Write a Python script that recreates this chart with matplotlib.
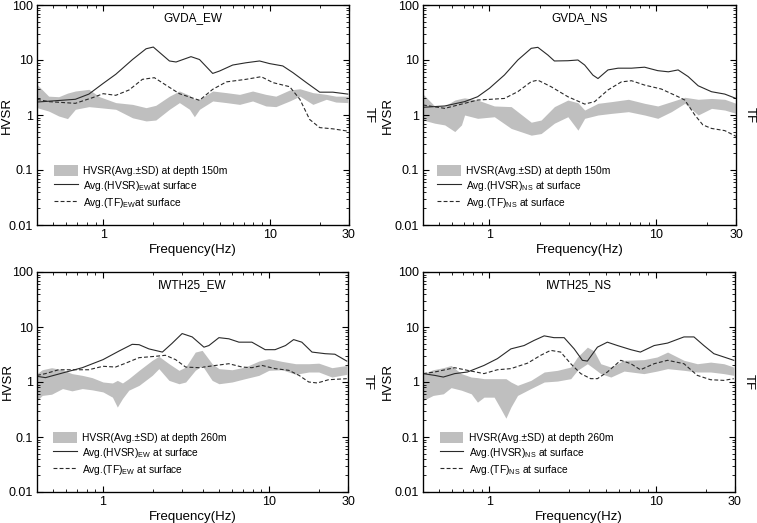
import matplotlib
matplotlib.use("Agg")
import matplotlib.pyplot as plt
import numpy as np
from matplotlib.ticker import LogLocator, FixedLocator, NullFormatter, FixedFormatter
from matplotlib.patches import Patch
from matplotlib.lines import Line2D

plt.rcParams['font.family'] = ['Liberation Sans', 'DejaVu Sans']
plt.rcParams['mathtext.fontset'] = 'custom'
plt.rcParams['mathtext.rm'] = 'Liberation Sans'

# ---------------- GVDA_EW ----------------
gew_hv_f = [0.40, 0.68, 0.82, 1.0, 1.19, 1.5, 1.81, 2.0, 2.5, 2.74, 3.37, 3.79, 4.55, 5.0, 6.0, 7.2, 8.7, 10.0, 12.0, 13.8, 16.6, 20.0, 24.0, 29.5]
gew_hv_v = [1.72, 1.93, 2.4, 3.76, 5.5, 10.2, 16.0, 17.2, 9.6, 9.2, 11.5, 10.2, 5.7, 6.3, 8.1, 8.9, 9.6, 8.6, 7.8, 5.9, 3.9, 2.6, 2.6, 2.4]
gew_tf_f = [0.40, 0.47, 0.68, 0.86, 1.0, 1.19, 1.43, 1.72, 2.03, 2.38, 2.87, 3.79, 4.55, 5.5, 7.2, 8.9, 10.5, 13.2, 15.2, 17.4, 20.0, 24.0, 29.5]
gew_tf_v = [1.93, 1.75, 1.63, 2.06, 2.44, 2.28, 2.85, 4.45, 4.77, 3.5, 2.44, 1.85, 2.93, 4.0, 4.45, 4.97, 3.87, 3.27, 1.93, 0.83, 0.59, 0.56, 0.51]
gew_sd_f = [0.40, 0.47, 0.54, 0.61, 0.68, 0.82, 0.95, 1.19, 1.5, 1.81, 2.07, 2.5, 2.87, 3.3, 3.53, 3.79, 4.55, 5.5, 6.6, 7.9, 9.5, 10.9, 13.2, 15.2, 18.2, 21.9, 25.0, 29.5]
gew_sd_hi = [3.6, 2.2, 2.15, 2.5, 2.73, 2.93, 2.15, 1.68, 1.56, 1.36, 1.5, 2.2, 2.73, 2.28, 1.93, 1.93, 2.73, 2.55, 2.37, 2.73, 2.37, 2.2, 2.85, 3.0, 2.55, 2.37, 2.2, 2.2]
gew_sd_lo = [1.36, 1.18, 0.96, 0.86, 1.27, 1.42, 1.36, 1.27, 0.89, 0.78, 0.81, 1.27, 1.68, 1.27, 0.93, 1.27, 1.8, 1.68, 1.56, 1.8, 1.46, 1.42, 1.8, 2.2, 1.56, 1.93, 1.72, 1.68]

# ---------------- GVDA_NS ----------------
gns_hv_f = [0.40, 0.54, 0.71, 0.85, 1.0, 1.23, 1.48, 1.78, 1.95, 2.24, 2.45, 2.95, 3.39, 3.72, 4.17, 4.47, 5.13, 5.9, 7.1, 8.5, 10.2, 11.8, 13.5, 15.5, 17.8, 21.4, 25.7, 30.0]
gns_hv_v = [1.38, 1.46, 1.75, 2.15, 3.06, 5.34, 10.0, 16.3, 17.0, 12.3, 9.6, 9.7, 10.0, 8.1, 5.3, 4.6, 6.6, 7.1, 7.1, 7.4, 6.4, 6.1, 6.6, 5.0, 3.4, 2.65, 2.4, 2.0]
gns_tf_f = [0.40, 0.54, 0.71, 0.85, 1.02, 1.23, 1.48, 1.78, 1.95, 2.34, 2.95, 3.72, 4.27, 5.13, 6.17, 7.1, 8.5, 10.7, 13.5, 14.8, 17.0, 19.0, 21.4, 25.7, 30.0]
gns_tf_v = [1.52, 1.32, 1.63, 1.87, 1.93, 2.0, 2.66, 4.04, 4.3, 3.27, 2.15, 1.58, 1.75, 2.85, 4.0, 4.2, 3.5, 2.97, 2.15, 1.87, 1.0, 0.66, 0.57, 0.52, 0.41]
gns_sd_f = [0.40, 0.47, 0.54, 0.62, 0.68, 0.71, 0.85, 1.07, 1.35, 1.78, 2.04, 2.45, 2.95, 3.39, 3.72, 4.47, 5.38, 6.8, 8.5, 10.2, 12.3, 14.8, 17.8, 21.4, 25.7, 30.0]
gns_sd_hi = [2.4, 1.46, 1.46, 1.87, 2.0, 2.05, 1.87, 1.46, 1.42, 0.74, 0.81, 1.42, 1.87, 1.67, 1.23, 1.63, 1.75, 1.93, 1.63, 1.46, 1.75, 2.1, 1.93, 2.0, 1.93, 1.63]
gns_sd_lo = [0.81, 0.71, 0.66, 0.5, 0.66, 1.0, 0.87, 0.93, 0.57, 0.43, 0.46, 0.71, 0.93, 0.53, 0.87, 1.0, 1.07, 1.15, 1.0, 0.87, 1.15, 1.63, 1.0, 1.32, 1.23, 1.07]

# ---------------- IWTH25_EW ----------------
iew_hv_f = [0.40, 0.45, 0.60, 0.75, 1.0, 1.25, 1.5, 1.65, 1.89, 2.28, 2.6, 3.0, 3.45, 4.06, 4.35, 5.0, 5.74, 6.6, 7.9, 9.5, 10.9, 12.6, 14.1, 15.8, 18.2, 21.9, 25.0, 29.5]
iew_hv_v = [1.27, 1.2, 1.52, 1.82, 2.55, 3.66, 4.84, 4.77, 4.0, 3.5, 5.0, 7.6, 6.6, 4.3, 4.6, 6.4, 6.1, 5.3, 5.3, 3.87, 3.87, 4.6, 5.9, 5.3, 3.5, 3.27, 3.2, 2.4]
iew_tf_f = [0.40, 0.45, 0.54, 0.69, 0.82, 1.0, 1.19, 1.37, 1.65, 2.07, 2.38, 2.74, 3.15, 3.79, 4.77, 5.74, 6.9, 7.9, 9.1, 10.9, 13.2, 15.2, 17.4, 19.6, 22.9, 29.5]
iew_tf_v = [1.32, 1.42, 1.67, 1.67, 1.67, 1.93, 1.87, 2.2, 2.77, 2.93, 3.06, 2.55, 1.87, 1.82, 2.0, 2.15, 1.87, 1.82, 2.0, 1.75, 1.63, 1.32, 1.0, 0.96, 1.1, 1.15]
iew_sd_f = [0.40, 0.43, 0.49, 0.57, 0.65, 0.75, 0.86, 1.0, 1.14, 1.22, 1.31, 1.43, 1.65, 1.98, 2.17, 2.5, 2.87, 3.15, 3.6, 3.96, 4.55, 5.0, 6.0, 7.2, 8.7, 10.0, 12.0, 14.5, 17.4, 20.0, 24.0, 29.5]
iew_sd_hi = [1.42, 1.67, 1.82, 1.67, 1.42, 1.32, 1.2, 1.0, 0.96, 1.07, 0.96, 1.15, 1.63, 2.48, 2.93, 2.15, 1.63, 1.87, 3.5, 3.76, 2.15, 1.75, 1.67, 1.87, 2.4, 2.66, 2.37, 2.15, 2.15, 2.2, 1.82, 2.0]
iew_sd_lo = [0.46, 0.57, 0.6, 0.76, 0.69, 0.76, 0.72, 0.66, 0.53, 0.35, 0.5, 0.71, 0.87, 1.32, 1.75, 1.07, 0.93, 1.0, 1.63, 2.0, 1.07, 0.93, 1.0, 1.15, 1.32, 1.63, 1.67, 1.38, 1.52, 1.52, 1.23, 1.38]

# ---------------- IWTH25_NS ----------------
ins_hv_f = [0.40, 0.47, 0.53, 0.62, 0.74, 0.93, 1.12, 1.35, 1.62, 1.86, 2.14, 2.45, 2.82, 3.24, 3.63, 3.89, 4.47, 5.13, 5.9, 7.1, 8.1, 9.8, 11.8, 14.8, 17.0, 19.5, 22.4, 25.7, 29.5]
ins_hv_v = [1.42, 1.32, 1.23, 1.42, 1.52, 2.0, 2.66, 4.0, 4.6, 5.7, 6.9, 6.4, 6.4, 4.0, 2.48, 2.4, 4.3, 5.3, 4.6, 3.87, 3.5, 4.6, 5.1, 6.6, 6.6, 4.6, 3.27, 2.85, 2.48]
ins_tf_f = [0.40, 0.47, 0.62, 0.74, 0.93, 1.12, 1.35, 1.7, 2.04, 2.34, 2.69, 3.09, 3.55, 4.07, 4.47, 5.13, 6.17, 7.1, 8.1, 9.8, 11.8, 14.8, 17.8, 21.4, 25.7, 29.5]
ins_tf_v = [1.42, 1.52, 1.82, 1.63, 1.42, 1.67, 1.75, 2.2, 3.06, 3.76, 3.5, 2.15, 1.42, 1.15, 1.15, 1.52, 2.48, 2.15, 1.67, 2.15, 2.48, 2.15, 1.32, 1.1, 1.07, 1.15]
ins_sd_f = [0.40, 0.46, 0.53, 0.59, 0.68, 0.78, 0.85, 0.93, 1.07, 1.17, 1.26, 1.35, 1.48, 1.78, 2.14, 2.57, 3.09, 3.39, 3.89, 4.27, 4.68, 5.38, 6.46, 8.5, 10.2, 11.8, 14.8, 17.8, 21.4, 25.7, 29.5]
ins_sd_hi = [1.42, 1.67, 1.82, 2.0, 1.42, 1.23, 1.2, 1.15, 1.15, 1.15, 1.15, 1.0, 0.87, 1.07, 1.52, 1.63, 1.87, 2.85, 4.3, 3.66, 2.15, 1.87, 2.48, 2.55, 2.85, 3.5, 2.48, 2.15, 2.3, 2.15, 1.87]
ins_sd_lo = [0.46, 0.57, 0.61, 0.79, 0.71, 0.61, 0.43, 0.53, 0.53, 0.33, 0.22, 0.35, 0.57, 0.76, 1.0, 1.04, 1.15, 1.63, 2.15, 1.75, 1.42, 1.23, 1.58, 1.42, 1.58, 1.75, 1.63, 1.52, 1.52, 1.42, 1.32]

titles = ["GVDA_EW", "GVDA_NS", "IWTH25_EW", "IWTH25_NS"]
depth_labels = ["HVSR(Avg.\u00b1SD) at depth 150m", "HVSR(Avg.\u00b1SD) at depth 150m",
                "HVSR(Avg.\u00b1SD) at depth 260m", "HVSR(Avg.\u00b1SD) at depth 260m"]
hv_labels = [r"Avg.(HVSR)$_{\rm EW}$at surface", r"Avg.(HVSR)$_{\rm NS}$ at surface",
             r"Avg.(HVSR)$_{\rm EW}$ at surface", r"Avg.(HVSR)$_{\rm NS}$ at surface"]
tf_labels = [r"Avg.(TF)$_{\rm EW}$at surface", r"Avg.(TF)$_{\rm NS}$ at surface",
             r"Avg.(TF)$_{\rm EW}$ at surface", r"Avg.(TF)$_{\rm NS}$ at surface"]

panels = [
    (gew_hv_f, gew_hv_v, gew_tf_f, gew_tf_v, gew_sd_f, gew_sd_hi, gew_sd_lo),
    (gns_hv_f, gns_hv_v, gns_tf_f, gns_tf_v, gns_sd_f, gns_sd_hi, gns_sd_lo),
    (iew_hv_f, iew_hv_v, iew_tf_f, iew_tf_v, iew_sd_f, iew_sd_hi, iew_sd_lo),
    (ins_hv_f, ins_hv_v, ins_tf_f, ins_tf_v, ins_sd_f, ins_sd_hi, ins_sd_lo),
]

W, H = 757, 523
fig = plt.figure(figsize=(W / 100, H / 100), dpi=100)

boxes = [  # left, right, top, bottom in pixels
    (37, 349, 5, 225),
    (423, 736, 5, 225),
    (37, 348, 272, 492),
    (423, 735, 272, 492),
]
hvsr_x = [-0.095, -0.112, -0.095, -0.112]
tf_x = [1.062, 1.045, 1.062, 1.045]
leg_x = [0.055, 0.045, 0.052, 0.054]

band_color = "#bfbfbf"
line_color = "#2a2a2a"

for i, (box, data) in enumerate(zip(boxes, panels)):
    l, r, t, b = box
    ax = fig.add_axes([l / W, 1 - b / H, (r - l) / W, (b - t) / H])
    hf, hv, tf_f, tf_v, sf, shi, slo = data
    ax.fill_between(sf, slo, shi, color=band_color, linewidth=0, zorder=1)
    ax.plot(hf, hv, color=line_color, lw=0.8, zorder=3)
    ax.plot(tf_f, tf_v, color=line_color, lw=0.8, ls=(0, (3.5, 2)), zorder=3)
    ax.set_xscale("log")
    ax.set_yscale("log")
    ax.set_xlim(0.4, 30)
    ax.set_ylim(0.01, 100)
    ax.xaxis.set_major_locator(FixedLocator([1, 10, 30]))
    ax.xaxis.set_major_formatter(FixedFormatter(["1", "10", "30"]))
    ax.xaxis.set_minor_locator(LogLocator(base=10, subs=np.arange(2, 10), numticks=20))
    ax.xaxis.set_minor_formatter(NullFormatter())
    ax.yaxis.set_major_locator(FixedLocator([0.01, 0.1, 1, 10, 100]))
    ax.yaxis.set_major_formatter(FixedFormatter(["0.01", "0.1", "1", "10", "100"]))
    ax.yaxis.set_minor_locator(LogLocator(base=10, subs=np.arange(2, 10), numticks=20))
    ax.yaxis.set_minor_formatter(NullFormatter())
    ax.tick_params(which="both", direction="in", top=True, right=False, labelsize=9, pad=3)
    ax.tick_params(which="major", length=4, width=0.8)
    ax.tick_params(which="minor", length=2, width=0.6)
    for sp in ax.spines.values():
        sp.set_linewidth(0.9)
    ax.set_xlabel("Frequency(Hz)", fontsize=9.5, labelpad=2)
    ax.set_ylabel("HVSR", fontsize=9.5, va="center")
    ax.yaxis.set_label_coords(hvsr_x[i], 0.5)
    ax.text(0.5, 0.97, titles[i], transform=ax.transAxes, ha="center", va="top", fontsize=8.5)

    ax2 = ax.twinx()
    ax2.set_yscale("log")
    ax2.set_ylim(0.01, 100)
    ax2.yaxis.set_major_locator(FixedLocator([0.01, 0.1, 1, 10, 100]))
    ax2.yaxis.set_minor_locator(LogLocator(base=10, subs=np.arange(2, 10), numticks=20))
    ax2.yaxis.set_major_formatter(NullFormatter())
    ax2.yaxis.set_minor_formatter(NullFormatter())
    ax2.tick_params(which="both", direction="in")
    ax2.tick_params(which="major", length=4, width=0.8)
    ax2.tick_params(which="minor", length=2, width=0.6)
    ax2.set_ylabel("TF", fontsize=9.5, rotation=270, va="center")
    ax2.yaxis.set_label_coords(tf_x[i], 0.5)

    handles = [Patch(facecolor=band_color, edgecolor="none"),
               Line2D([], [], color=line_color, lw=0.8),
               Line2D([], [], color=line_color, lw=0.8, ls=(0, (3.5, 2)))]
    ax.legend(handles, [depth_labels[i], hv_labels[i], tf_labels[i]],
              loc="lower left", bbox_to_anchor=(leg_x[i], 0.07), frameon=False,
              fontsize=7.4, handlelength=2.3, handleheight=1.4, handletextpad=0.5,
              labelspacing=0.25, borderpad=0.0, borderaxespad=0.0)

fig.savefig("out.png", dpi=100)
